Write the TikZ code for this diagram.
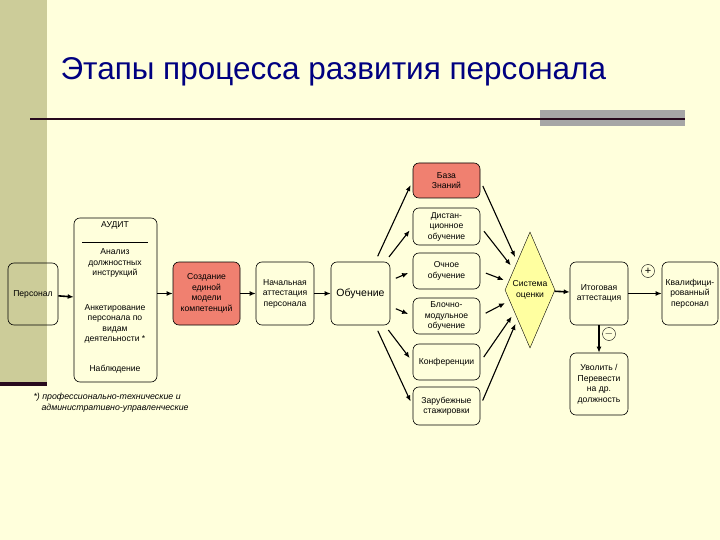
\documentclass[tikz,border=0pt]{standalone}
\usepackage{fontspec}
\setmainfont{Liberation Sans}
\usetikzlibrary{shapes.geometric,arrows.meta}
\definecolor{bg}{RGB}{255,255,220}
\definecolor{band}{RGB}{204,204,153}
\definecolor{redf}{RGB}{240,128,112}
\definecolor{diaf}{RGB}{255,255,160}
\definecolor{titc}{RGB}{0,0,128}
\definecolor{darkl}{RGB}{40,10,30}
\tikzset{
 box/.style={draw,rounded corners=6pt,align=center,font=\fontsize{8.6}{10.5}\selectfont,inner sep=1pt,line width=0.6pt},
 arr/.style={-{Latex[length=6pt,width=5pt]},line width=1.6pt},
 farr/.style={arr,line width=1.1pt,shorten <=6pt,shorten >=5pt},
}
\begin{document}
\begin{tikzpicture}[x=1pt,y=-1pt]
\fill[bg] (0,0) rectangle (720,540);
\useasboundingbox (0,0) rectangle (720,540);
\fill[band] (0,0) rectangle (47,383);
\fill[darkl] (0,382) rectangle (47,386);
\fill[gray!70] (540,110) rectangle (685,126);
\draw[darkl,line width=1.5pt] (30,119) -- (685,119);
\node[anchor=west,text=titc,font=\fontsize{31.5}{36}\selectfont] (title) at (57,72) {Этапы процесса развития персонала};

\node[box,minimum width=50pt,minimum height=62pt] (pers) at (33,294) {Персонал};
\node[box,minimum width=83pt,minimum height=164pt] (audit) at (115.5,300) {};
\draw (82,242) -- (148,242);
\node[font=\fontsize{8.6}{10.5}\selectfont] (a1) at (115,225) {АУДИТ};
\node[align=center,font=\fontsize{8.6}{10.5}\selectfont] (a2) at (115,263) {Анализ\\должностных\\инструкций};
\node[align=center,font=\fontsize{8.6}{10.5}\selectfont] (a3) at (115,324) {Анкетирование\\персонала по\\видам\\деятельности *};
\node[font=\fontsize{8.6}{10.5}\selectfont] (a4) at (115,369) {Наблюдение};
\node[box,fill=redf,minimum width=67pt,minimum height=63pt] (soz) at (206.5,293.5) {Создание\\единой\\модели\\компетенций};
\node[box,minimum width=58pt,minimum height=63pt] (nach) at (285,293.5) {Начальная\\аттестация\\персонала};
\node[box,minimum width=59pt,minimum height=63pt,font=\fontsize{10.5}{12}\selectfont] (ob) at (360.5,293.5) {Обучение};
\node[box,fill=redf,minimum width=67pt,minimum height=35pt] (b1) at (446.5,180.5) {База\\Знаний};
\node[box,minimum width=67pt,minimum height=37pt] (b2) at (446.5,226.5) {Дистан-\\ционное\\обучение};
\node[box,minimum width=67pt,minimum height=36pt] (b3) at (446.5,271) {Очное\\обучение};
\node[box,minimum width=67pt,minimum height=36pt] (b4) at (446.5,316) {Блочно-\\модульное\\обучение};
\node[box,minimum width=67pt,minimum height=36pt] (b5) at (446.5,362) {Конференции};
\node[box,minimum width=67pt,minimum height=38pt] (b6) at (446.5,406) {Зарубежные\\стажировки};
\node[diamond,draw,fill=diaf,minimum width=50pt,minimum height=116pt,inner sep=0pt,aspect=0.43,align=center,font=\fontsize{8.6}{10.5}\selectfont] (sys) at (530,290) {Система\\оценки};
\node[box,minimum width=58pt,minimum height=63pt] (itog) at (599,293.5) {Итоговая\\аттестация};
\node[box,minimum width=56pt,minimum height=63pt] (kval) at (690,293.5) {Квалифици-\\рованный\\персонал};
\node[box,minimum width=58pt,minimum height=62pt] (uvol) at (599,384) {Уволить /\\Перевести\\на др.\\должность};
\node[draw,circle,minimum size=13pt,inner sep=0pt,font=\fontsize{11}{11}\selectfont] (plus) at (648,271) {+};
\node[draw,circle,minimum size=13pt,inner sep=0pt,font=\fontsize{11}{11}\selectfont] (minus) at (609,334) {$-$};
\node[anchor=north west,align=left,font=\fontsize{8.8}{11}\selectfont\itshape] (foot) at (30,390) {*) профессионально-технические и\\\hspace{8pt}административно-управленческие};

\draw[arr] (pers) -- (audit);
\draw[arr] (audit.east|-soz) -- (soz);
\draw[arr] (soz) -- (nach);
\draw[arr] (nach) -- (ob);
\foreach \b in {b1,b2,b3,b4,b5,b6}{
 \draw[farr] (ob) -- (\b.west);
 \draw[farr] (\b.east) -- (sys);
}
\draw[arr] (sys) -- (itog);
\draw[arr] (itog) -- (kval);
\draw[arr] (itog) -- (uvol);
\end{tikzpicture}
\end{document}
